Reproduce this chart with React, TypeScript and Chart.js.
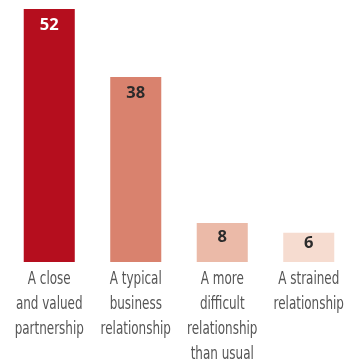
import React, { useEffect, useRef } from "react";
import { Chart, registerables } from "chart.js";

Chart.register(...registerables);

const categories: string[][] = [
  ["A close", "and valued", "partnership"],
  ["A typical", "business", "relationship"],
  ["A more", "difficult", "relationship", "than usual"],
  ["A strained", "relationship"],
];
const values: number[] = [52, 38, 8, 6];
const barColors: string[] = ["#B50E1E", "#D9826E", "#EBBAA8", "#F6DCD0"];
const labelColors: string[] = ["#FFFFFF", "#2B2B2B", "#2B2B2B", "#2B2B2B"];

const valueLabels = {
  id: "valueLabels",
  afterDatasetsDraw(chart: any) {
    const ctx = chart.ctx;
    const meta = chart.getDatasetMeta(0);
    ctx.save();
    ctx.font = "bold 16.5px 'Open Sans', sans-serif";
    ctx.textAlign = "center";
    ctx.textBaseline = "middle";
    meta.data.forEach((bar: any, i: number) => {
      const h = bar.base - bar.y;
      const y = bar.y + Math.min(16, h * 0.37);
      ctx.fillStyle = labelColors[i];
      ctx.fillText(String(values[i]), bar.x, y);
    });
    ctx.restore();

    // condensed category labels under each bar
    const xScale = chart.scales.x;
    const base = chart.chartArea.bottom;
    ctx.save();
    ctx.font = "18px 'DejaVu Sans Condensed', 'DejaVu Sans', sans-serif";
    ctx.fillStyle = "#555555";
    ctx.textAlign = "center";
    ctx.textBaseline = "alphabetic";
    categories.forEach((lines, i) => {
      const cx = xScale.getPixelForTick(i);
      lines.forEach((line, j) => {
        ctx.save();
        ctx.translate(cx, base + 22 + j * 25);
        ctx.scale(0.74, 1);
        ctx.fillText(line, 0, 0);
        ctx.restore();
      });
    });
    ctx.restore();
  },
};

export default function App() {
  const ref = useRef<HTMLCanvasElement>(null);
  useEffect(() => {
    document.body.style.margin = "0";
    const chart = new Chart(ref.current!, {
      type: "bar",
      data: {
        labels: categories,
        datasets: [
          {
            data: values,
            backgroundColor: barColors,
            barPercentage: 0.59,
            categoryPercentage: 1,
          },
        ],
      },
      options: {
        animation: false,
        responsive: false,
        maintainAspectRatio: false,
        layout: { padding: { top: 9, left: 6, right: 5, bottom: 100 } },
        plugins: { legend: { display: false }, tooltip: { enabled: false } },
        scales: {
          y: { display: false, min: 0, max: 52 },
          x: { display: false },
        },
      },
      plugins: [valueLabels],
    });
    return () => chart.destroy();
  }, []);
  return (
    <div style={{ position: "absolute", left: 0, top: 0, width: 357, height: 362, background: "#fff" }}>
      <canvas ref={ref} width={357} height={362} />
    </div>
  );
}
